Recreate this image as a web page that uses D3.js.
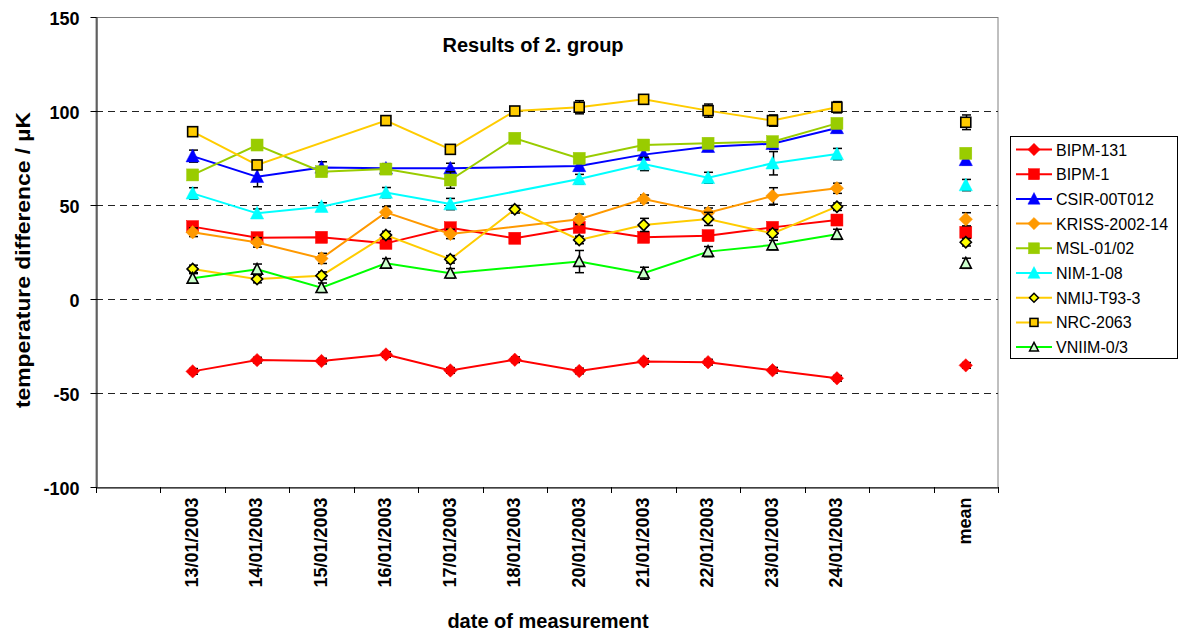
<!DOCTYPE html>
<html><head><meta charset="utf-8">
<script src="https://cdn.jsdelivr.net/npm/d3@7"></script>
<style>body{margin:0;background:#fff}svg{display:block;font-family:Arial,"Liberation Sans",sans-serif}</style>
</head><body><svg id="c" width="1182" height="635"></svg>
<script>
const categories = ["", "13/01/2003","14/01/2003","15/01/2003","16/01/2003","17/01/2003","18/01/2003","20/01/2003","21/01/2003","22/01/2003","23/01/2003","24/01/2003"," ","mean"];
const dates = categories.slice(1,12);
const yTicks = [-100,-50,0,50,100,150];
const seriesNames = ["BIPM-131","BIPM-1","CSIR-00T012","KRISS-2002-14","MSL-01/02","NIM-1-08","NMIJ-T93-3","NRC-2063","VNIIM-0/3"];
// values: 11 dates then mean
const bipm131 = [-38.5,-32.5,-33,-29.5,-38,-32.3,-38.3,-33.2,-33.6,-37.9,-42.2,-35.3];
const bipm1   = [38.5,32.6,32.8,29.6,37.9,32.3,38.1,32.8,33.7,38.1,42.0,35.5];
const csir    = [76,65,70,69.5,69.5,null,70.8,76.8,81,82.6,91,74];
const kriss   = [35.5,30.1,21.6,46.1,34.6,null,42.4,53.2,45.9,54.8,58.9,42.4];
const msl     = [66,81.9,67.7,69.1,63.3,85.5,74.8,81.9,82.8,83.7,93.4,77.5];
const nim     = [56.2,45.6,49.1,56.6,50.5,null,63.8,71.8,64.5,72.2,77.1,60.6];
const nmij    = [16,10.6,12.4,34,21.1,47.7,31.4,39.4,42.6,34.9,49.1,30.2];
const nrc     = [89,71.3,null,94.9,79.6,100,102,106.2,100.2,94.9,102,94];
const vniim   = [11,15.8,6,19,13.7,null,19.9,13.7,25.2,28.7,34.4,19];
// uncertainties (error bar half-lengths)
const errBipm131 = [1.5,1.5,1.5,1.5,1.5,1.5,1.5,1.5,1.5,1.5,1.5,1.5];
const errBipm1   = [2,2,2,2,2,2,2,2,2,2,2,2];
const errCsir    = [3.2,5.3,3,2.5,2.7,0,2.5,2.5,2.5,3,2.5,2.5];
const errKriss   = [2.3,2.5,2.7,3,2.5,0,2.8,2.1,2.5,4.4,2.7,3.5];
const errMsl     = [2,2,2,2,4.4,2,2,2,2.5,2,2,2];
const errNim     = [3,2.3,2.1,2.7,3,0,2.5,3.5,2.9,6.2,3,3];
const errNmij    = [2,2,2,2,2,2,2,3.5,3.5,2,2,2];
const errNrc     = [2,2,0,2,2,2,3.5,2,3.5,3,3,3.9];
const errVniim   = [2.5,2.8,2.5,2.5,2.5,0,5.9,3.2,2.7,2.5,2.7,2.7];

const series = [
 {name:seriesNames[0], v:bipm131, e:errBipm131, line:"#FF0000", fill:"#FF0000", stroke:"#FF0000", shape:"diamond"},
 {name:seriesNames[1], v:bipm1, e:errBipm1, line:"#FF0000", fill:"#FF0000", stroke:"#FF0000", shape:"square"},
 {name:seriesNames[2], v:csir, e:errCsir, line:"#0000FF", fill:"#0000FF", stroke:"#0000FF", shape:"triangle"},
 {name:seriesNames[3], v:kriss, e:errKriss, line:"#FF9900", fill:"#FF9900", stroke:"#FF9900", shape:"diamond"},
 {name:seriesNames[4], v:msl, e:errMsl, line:"#99CC00", fill:"#99CC00", stroke:"#99CC00", shape:"square"},
 {name:seriesNames[5], v:nim, e:errNim, line:"#00FFFF", fill:"#00FFFF", stroke:"#00FFFF", shape:"triangle"},
 {name:seriesNames[6], v:nmij, e:errNmij, line:"#FFCC00", fill:"#FFFF00", stroke:"#000000", shape:"diamond"},
 {name:seriesNames[7], v:nrc, e:errNrc, line:"#FFCC00", fill:"#FFCC00", stroke:"#000000", shape:"square"},
 {name:seriesNames[8], v:vniim, e:errVniim, line:"#00FF00", fill:"#CCFFCC", stroke:"#000000", shape:"triangle"}
];

const svg = d3.select("#c");
const L=96, R=998, T=17, B=487;
const x = d3.scaleBand().domain(categories).range([L,R]);
const y = d3.scaleLinear().domain([-100,150]).range([B,T]);
const cx = c => x(c) + x.bandwidth()/2;
const catOf = i => i < 11 ? dates[i] : "mean";
const FONT = 'Arial,"Liberation Sans",sans-serif';

// plot border
svg.append("rect").attr("x",L).attr("y",T+0.5).attr("width",R-L).attr("height",B-T)
  .attr("fill","none").attr("stroke","#808080");
// gridlines
svg.append("g").selectAll("line").data(yTicks.filter(t=>t>-100&&t<150)).join("line")
  .attr("x1",L).attr("x2",R).attr("y1",d=>Math.round(y(d))+0.5).attr("y2",d=>Math.round(y(d))+0.5)
  .attr("stroke","#222").attr("stroke-dasharray","7,5");

// y axis
const ya = svg.append("g").attr("transform",`translate(${L+0.5},0)`)
  .call(d3.axisLeft(y).tickValues(yTicks).tickFormat(d=>String(d)).tickSize(6).tickSizeOuter(0));
ya.attr("font-family",FONT);
ya.select(".domain").attr("stroke","#000");
ya.selectAll(".tick line").attr("stroke","#000");
ya.selectAll("text").attr("font-size",18).attr("font-weight","bold").attr("fill","#000").attr("x",-17).attr("dy","0.4em");

// x axis
const xa = svg.append("g").attr("transform",`translate(0,${B+0.5})`)
  .call(d3.axisBottom(x).tickSize(0).tickSizeOuter(0));
xa.attr("font-family",FONT);
xa.select(".domain").attr("stroke","#000");
xa.selectAll("text").attr("font-size",18).attr("font-weight","bold").attr("fill","#000")
  .attr("transform","rotate(-90)").attr("text-anchor","end").attr("dx","-10").attr("dy","0.3em").attr("y",0);
const bounds = d3.range(categories.length+1).map(i=>L + i*x.step());
svg.append("g").selectAll("line").data(bounds).join("line")
  .attr("x1",d=>Math.round(d)+0.5).attr("x2",d=>Math.round(d)+0.5).attr("y1",B).attr("y2",B+6).attr("stroke","#000");

// titles
svg.append("text").attr("x",533).attr("y",52).attr("text-anchor","middle").attr("font-size",20).attr("font-weight","bold").text("Results of 2. group");
svg.append("text").attr("transform","translate(30,260) rotate(-90)").attr("text-anchor","middle").attr("font-size",20).attr("font-weight","bold")
  .attr("textLength",296).attr("lengthAdjust","spacingAndGlyphs").text("temperature difference / µK");
svg.append("text").attr("x",548).attr("y",628).attr("text-anchor","middle").attr("font-size",20).attr("font-weight","bold").text("date of measurement");

function marker(g, shape, px, py, s, fill, stroke, sw){
  let el;
  if(shape==="square") el = g.append("rect").attr("x",px-s/2).attr("y",py-s/2).attr("width",s).attr("height",s);
  else if(shape==="diamond") el = g.append("path").attr("d",`M${px},${py-s*0.56}L${px+s*0.56},${py}L${px},${py+s*0.56}L${px-s*0.56},${py}Z`);
  else el = g.append("path").attr("d",`M${px},${py-s*0.58}L${px+s*0.55},${py+s*0.48}L${px-s*0.55},${py+s*0.48}Z`);
  el.attr("fill",fill).attr("stroke",stroke).attr("stroke-width",sw);
}

const line = d3.line().x(d=>cx(d.c)).y(d=>y(d.v));
series.forEach(s=>{
  const g = svg.append("g");
  const pts = s.v.map((v,i)=>({v,e:s.e[i],c:catOf(i),i})).filter(d=>d.v!==null);
  g.append("path").datum(pts.filter(d=>d.i<11)).attr("d",line).attr("fill","none").attr("stroke",s.line).attr("stroke-width",2);
  pts.forEach(d=>{
    if(d.e>0){
      const px=Math.round(cx(d.c))+0.5;
      g.append("line").attr("x1",px).attr("x2",px).attr("y1",y(d.v-d.e)).attr("y2",y(d.v+d.e)).attr("stroke","#000").attr("stroke-width",1.5);
      [d.v-d.e,d.v+d.e].forEach(t=>g.append("line").attr("x1",px-4.5).attr("x2",px+4.5).attr("y1",y(t)).attr("y2",y(t)).attr("stroke","#000").attr("stroke-width",1.5));
    }
  });
  pts.forEach(d=>{
    const blk = s.stroke==="#000000";
    marker(g, s.shape, cx(d.c), y(d.v), blk ? 10 : 12, s.fill, s.stroke, blk?1.6:0.5);
  });
});

// legend
const lg = svg.append("g");
lg.append("rect").attr("x",1010.5).attr("y",136.5).attr("width",167).attr("height",222).attr("fill","#fff").attr("stroke","#000");
series.forEach((s,i)=>{
  const yy = 149.5 + i*24.7;
  lg.append("line").attr("x1",1016).attr("x2",1052).attr("y1",yy).attr("y2",yy).attr("stroke",s.line).attr("stroke-width",2);
  const blk = s.stroke==="#000000";
  marker(lg, s.shape, 1034, yy, blk?8:11, s.fill, s.stroke, blk?1.5:0.5);
  lg.append("text").attr("x",1056).attr("y",yy+6).attr("font-size",16).text(s.name);
});
</script></body></html>
